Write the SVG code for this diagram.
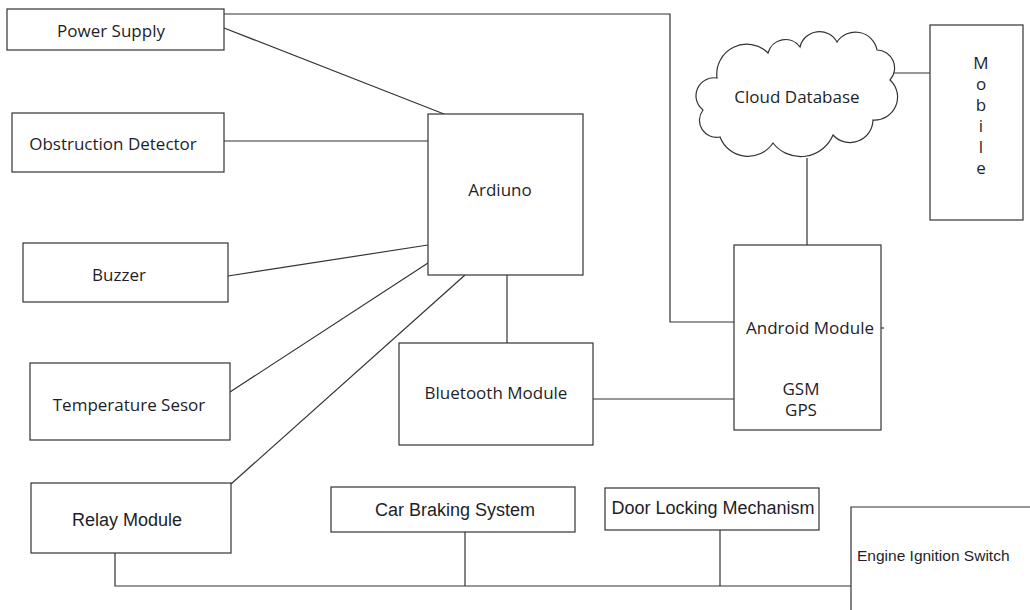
<svg xmlns="http://www.w3.org/2000/svg" width="1030" height="610" viewBox="0 0 1030 610">
<style>
.box{fill:#fff;stroke:#333;stroke-width:1.2}
.ln{fill:none;stroke:#333;stroke-width:1.2}
text{font-family:"Open Sans","Liberation Sans",sans-serif;font-size:17px;fill:#1e1e28;text-anchor:middle;dominant-baseline:central}
.nar{font-family:"Liberation Sans Narrow","Liberation Sans",sans-serif;font-size:18px}
</style>
<rect width="1030" height="610" fill="#fff"/>
<g id="connectors">
<polyline class="ln" points="224,14 670,14 670,322 734,322"/>
<line class="ln" x1="224" y1="28" x2="444" y2="114"/>
<line class="ln" x1="224" y1="141" x2="428" y2="141"/>
<line class="ln" x1="228" y1="276" x2="428" y2="245"/>
<line class="ln" x1="230" y1="392" x2="428" y2="263"/>
<line class="ln" x1="231" y1="484" x2="465" y2="275"/>
<line class="ln" x1="507" y1="275" x2="507" y2="343"/>
<line class="ln" x1="593" y1="399" x2="734" y2="399"/>
<line class="ln" x1="807" y1="158" x2="807" y2="245"/>
<line class="ln" x1="894" y1="73" x2="930" y2="73"/>
<line class="ln" x1="881" y1="328" x2="884" y2="328"/>
<polyline class="ln" points="115,553 115,586 851,586"/>
<line class="ln" x1="465" y1="532" x2="465" y2="586"/>
<line class="ln" x1="720" y1="530" x2="720" y2="586"/>
</g>
<g id="power"><rect class="box" x="7" y="9" width="217" height="41"/><text x="111" y="30">Power Supply</text></g>
<g id="obstruction"><rect class="box" x="12" y="113" width="212" height="59"/><text x="113" y="143">Obstruction Detector</text></g>
<g id="buzzer"><rect class="box" x="23" y="243" width="205" height="59"/><text x="119" y="274">Buzzer</text></g>
<g id="temperature"><rect class="box" x="30" y="363" width="200" height="77"/><text x="129" y="404">Temperature Sesor</text></g>
<g id="relay"><rect class="box" x="31" y="483" width="200" height="70"/><text x="127" y="520" class="nar">Relay Module</text></g>
<g id="ardiuno"><rect class="box" x="428" y="114" width="155" height="161"/><text x="500" y="189">Ardiuno</text></g>
<g id="bluetooth"><rect class="box" x="399" y="343" width="194" height="102"/><text x="496" y="392">Bluetooth Module</text></g>
<g id="android"><rect class="box" x="734" y="245" width="147" height="185"/><text x="810" y="327">Android Module</text><text x="801" y="388">GSM</text><text x="801" y="409">GPS</text></g>
<g id="cloud">
<path class="box" d="M703,110 A18 18 0 0 1 717,78 A30 30 0 0 1 768,53 A18 18 0 0 1 800,47 A20 20 0 0 1 837,42 A22 22 0 0 1 877,50 A18 18 0 0 1 890,80 A23 23 0 0 1 873,120 A23 23 0 0 1 833,135 A35 35 0 0 1 773,143 A30 30 0 0 1 720,137 A17 17 0 0 1 703,110 Z"/>
<text x="797" y="96">Cloud Database</text>
</g>
<g id="mobile"><rect class="box" x="930" y="25" width="93" height="195"/>
<text x="981" y="62">M</text><text x="981" y="83">o</text><text x="981" y="104">b</text><text x="981" y="125">i</text><text x="981" y="146">l</text><text x="981" y="167">e</text></g>
<g id="braking"><rect class="box" x="331" y="487" width="244" height="45"/><text x="455" y="510" class="nar">Car Braking System</text></g>
<g id="door"><rect class="box" x="605" y="488" width="214" height="42"/><text x="713" y="508" class="nar">Door Locking Mechanism</text></g>
<g id="engine"><path class="ln" d="M1030,507 H851 V610"/><text x="857" y="555" style="text-anchor:start;font-family:'Liberation Sans',sans-serif;font-size:15.5px">Engine Ignition Switch</text></g>
</svg>
